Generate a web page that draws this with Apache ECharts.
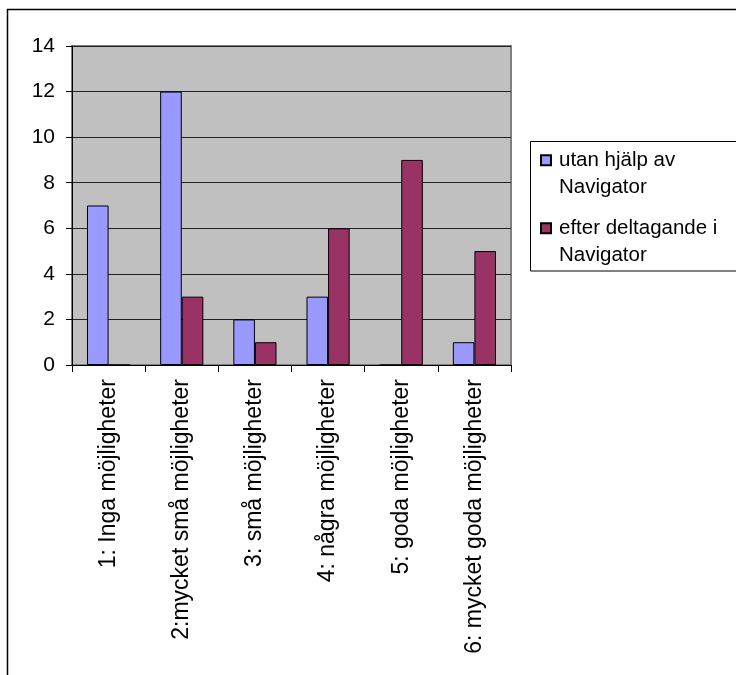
<!DOCTYPE html>
<html>
<head>
<meta charset="utf-8">
<style>
html,body{margin:0;padding:0;background:#fff;}
#c{width:736px;height:675px;}
</style>
<script src="https://cdn.jsdelivr.net/npm/echarts@6/dist/echarts.min.js"></script>
</head>
<body>
<div id="c"></div>
<script>
const categories = ['1: Inga möjligheter', '2:mycket små möjligheter', '3: små möjligheter', '4: några möjligheter', '5: goda möjligheter', '6: mycket goda möjligheter'];
const seriesNames = ['utan hjälp av\nNavigator', 'efter deltagande i\nNavigator'];
const utanHjalp = [7, 12, 2, 3, 0, 1];
const efterDeltagande = [0, 3, 1, 6, 9, 5];
const yTicks = {min: 0, max: 14, interval: 2};

const chart = echarts.init(document.getElementById('c'), null, {renderer: 'canvas'});
const font = 'Liberation Sans, Arial, Helvetica, sans-serif';
const legendBase = {
  orient: 'vertical',
  left: 530,
  padding: [0, 0, 0, 10],
  itemWidth: 10, itemHeight: 10,
  icon: 'rect',
  // leading blank line so the square lines up with the first text line
  formatter: name => '\n' + name,
  textStyle: {fontSize: 20.5, lineHeight: 27.5, color: '#000', fontFamily: font, padding: [0, 0, 0, 3]}
};
chart.setOption({
  animation: false,
  backgroundColor: '#fff',
  textStyle: {fontFamily: font, color: '#000'},
  graphic: [{
    type: 'polyline',
    shape: {points: [[7.5, 676], [7.5, 9.5], [737, 9.5]]},
    style: {stroke: '#000', lineWidth: 1.5, fill: null},
    silent: true
  }, {
    type: 'rect',
    shape: {x: 530.5, y: 141.5, width: 220, height: 129.5},
    style: {stroke: '#000', lineWidth: 1, fill: null},
    silent: true, z: -1
  }],
  grid: {
    left: 72, right: 225, top: 46, bottom: 310,
    show: true, backgroundColor: '#C0C0C0', borderColor: '#808080', borderWidth: 2
  },
  legend: [
    Object.assign({}, legendBase, {top: 119, data: [seriesNames[0]]}),
    Object.assign({}, legendBase, {top: 187, data: [seriesNames[1]]})
  ],
  xAxis: {
    type: 'category',
    data: categories,
    boundaryGap: true,
    axisLine: {lineStyle: {color: '#000', width: 1}},
    axisTick: {show: true, interval: 0, length: 7, lineStyle: {color: '#000'}},
    axisLabel: {interval: 0, rotate: 90, fontSize: 23, margin: 14, color: '#000', fontFamily: font},
    splitLine: {show: false}
  },
  yAxis: {
    type: 'value',
    min: yTicks.min, max: yTicks.max, interval: yTicks.interval,
    axisLine: {show: true, lineStyle: {color: '#000', width: 1}},
    axisTick: {show: true, length: 6, lineStyle: {color: '#000'}},
    axisLabel: {fontSize: 21, margin: 17, color: '#000', fontFamily: font},
    splitLine: {show: true, lineStyle: {color: '#222', width: 1}}
  },
  series: [{
    name: seriesNames[0], type: 'bar', data: utanHjalp,
    barGap: '0%', barCategoryGap: '41%',
    itemStyle: {color: '#9999FF', borderColor: '#000', borderWidth: 1}
  }, {
    name: seriesNames[1], type: 'bar', data: efterDeltagande,
    barGap: '0%', barCategoryGap: '41%',
    itemStyle: {color: '#993366', borderColor: '#000', borderWidth: 1}
  }]
});
</script>
</body>
</html>
